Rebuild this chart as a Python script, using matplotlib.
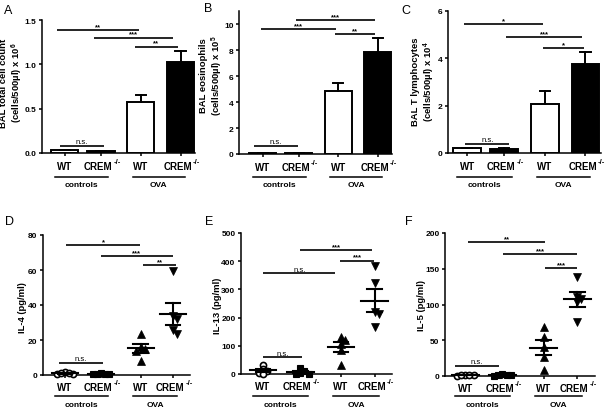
import numpy as np
import matplotlib
matplotlib.use('Agg')
import matplotlib.pyplot as plt

plt.rcParams['font.family'] = ['Liberation Sans', 'DejaVu Sans']
plt.rcParams['mathtext.fontset'] = 'custom'
plt.rcParams['mathtext.rm'] = 'Liberation Sans'
plt.rcParams['mathtext.bf'] = 'Liberation Sans:bold'
plt.rcParams['mathtext.it'] = 'Liberation Sans:italic'

W, H = 605, 410

# ---------------- data ----------------
tick_labels = ['WT', 'CREM', 'WT', 'CREM']
tick_sup = ['', '-/-', '', '-/-']
group_names = ['controls', 'OVA']

# top row: bar charts (mean, SEM)
total_mean = [0.03, 0.02, 0.57, 1.03]
total_sem = [0.005, 0.003, 0.085, 0.12]
eos_mean = [0.05, 0.05, 4.85, 7.85]
eos_sem = [0.01, 0.01, 0.62, 1.05]
tly_mean = [0.20, 0.18, 2.07, 3.76]
tly_sem = [0.03, 0.02, 0.57, 0.52]

# bottom row: individual mice
il4_wt_ctrl = [1.5, 0.5, 1.0, 0.8, 1.2]
il4_crem_ctrl = [0.8, 0.3, 1.0, 0.5, 0.6]
il4_wt_ova = [23.5, 16, 15, 14, 8]
il4_crem_ova = [59.5, 34, 32, 25.5, 23.5]

il13_wt_ctrl = [33, 18, 10, 4, 0]
il13_crem_ctrl = [22, 12, 5, 0, 0]
il13_wt_ova = [130, 120, 106, 85, 32]
il13_crem_ova = [384, 321, 220, 212, 165]

il5_wt_ctrl = [1.5, 0.5, 1.0, 0.8, 1.2]
il5_crem_ctrl = [1.5, 2.5, 1.0, 0.5, 2.0]
il5_wt_ova = [69, 54, 40, 26, 9]
il5_crem_ova = [139, 110, 108, 104, 75]

# significance brackets: (x start, x end, y, label)
sig_A = [(-0.22, 2.04, 1.39, '**'), (0.80, 3.00, 1.30, '***'), (1.93, 3.14, 1.20, '**'), (-0.12, 1.08, 0.08, 'n.s.')]
sig_B = [(-0.06, 2.03, 9.6, '***'), (0.94, 3.14, 10.3, '***'), (2.00, 3.14, 9.2, '**'), (-0.25, 0.97, 0.63, 'n.s.')]
sig_C = [(-0.08, 2.06, 5.45, '*'), (1.06, 3.10, 4.89, '***'), (2.05, 3.15, 4.44, '*'), (-0.05, 1.14, 0.38, 'n.s.')]
sig_D = [(0.03, 2.08, 74.2, '*'), (0.99, 2.99, 68, '***'), (2.17, 3.08, 62.7, '**'), (-0.17, 1.05, 7.1, 'n.s.')]
sig_E = [(1.00, 2.93, 440, '***'), (2.08, 2.98, 402, '***'), (0.00, 1.95, 357, 'n.s.'), (0.00, 1.04, 59, 'n.s.')]
sig_F = [(0.08, 2.14, 187, '**'), (1.02, 3.00, 170.6, '***'), (2.14, 3.00, 151, '***'), (-0.27, 0.91, 14.4, 'n.s.')]

# ---------------- layout ----------------
pos_top = [0, 1, 2.1, 3.2]
pos_bot = [0, 1, 2.1, 3.0]

fig = plt.figure(figsize=(W / 100, H / 100), dpi=100)
fig.patch.set_facecolor('white')


def make_ax(l, r, b, t, xl, ylim, yticks, yfmt):
    ax = fig.add_axes([l / W, 1 - b / H, (r - l) / W, (b - t) / H])
    ax.set_xlim(*xl)
    ax.set_ylim(*ylim)
    ax.set_yticks(yticks)
    ax.set_yticklabels([yfmt.format(v) for v in yticks], fontsize=6, fontweight='bold')
    for s in ['top', 'right']:
        ax.spines[s].set_visible(False)
    for s in ['left', 'bottom']:
        ax.spines[s].set_linewidth(1.1)
    ax.tick_params(axis='y', length=2.5, width=1.1, pad=1.5)
    ax.tick_params(axis='x', length=2.5, width=1.1, pad=3)
    ax.set_facecolor('none')
    return ax


def decorate_x(ax, pos, lab_gap, line_gap, text_gap):
    ax.set_xticks(pos)
    ax.set_xticklabels([])
    tr = ax.get_xaxis_transform()
    for x, lab, sup in zip(pos, tick_labels, tick_sup):
        if sup:
            ax.annotate(lab, (x, 0), xycoords=tr, xytext=(-3, -lab_gap), textcoords='offset pixels',
                        ha='center', va='center', fontsize=7, fontweight='bold', annotation_clip=False)
            ax.annotate(sup, (x, 0), xycoords=tr, xytext=(12.5, -lab_gap + 4), textcoords='offset pixels',
                        ha='left', va='center', fontsize=5.6, fontweight='bold', annotation_clip=False)
        else:
            ax.annotate(lab, (x, 0), xycoords=tr, xytext=(0, -lab_gap), textcoords='offset pixels',
                        ha='center', va='center', fontsize=7, fontweight='bold', annotation_clip=False)
    h = ax.get_window_extent().height
    spans = [(pos[0] - 0.27, pos[1] + 0.2), (pos[2] - 0.22, pos[3] + 0.12)]
    for (a, b_), name in zip(spans, group_names):
        ax.plot([a, b_], [-line_gap / h] * 2, color='black', lw=1.1, transform=tr, clip_on=False)
        ax.text((a + b_) / 2, -text_gap / h, name, transform=tr, ha='center', va='center',
                fontsize=6, fontweight='bold')


def add_sig(ax, sigs):
    for x1, x2, y, lab in sigs:
        ax.plot([x1, x2], [y, y], color='black', lw=1.2, solid_capstyle='butt', zorder=5)
        if lab == 'n.s.':
            ax.annotate(lab, ((x1 + x2) / 2, y), xytext=(0, 0.5), textcoords='offset points',
                        ha='center', va='bottom', fontsize=5.5)
        else:
            ax.annotate(lab, ((x1 + x2) / 2, y), xytext=(0, 0), textcoords='offset points',
                        ha='center', va='bottom', fontsize=5.5, fontweight='bold')


def bars(ax, pos, means, sems):
    colors = ['white', 'black', 'white', 'black']
    ax.bar(pos, means, width=0.75, color=colors, edgecolor='black', linewidth=1.4, zorder=3)
    for x, m, s in zip(pos, means, sems):
        ax.plot([x, x], [m, m + s], color='black', lw=1.4, zorder=4)
        ax.plot([x - 0.14, x + 0.14], [m + s, m + s], color='black', lw=1.4, zorder=4)


def swarm_offsets(ax, x0, vals, d_px):
    pts = np.column_stack([np.full(len(vals), x0, dtype=float), np.asarray(vals, dtype=float)])
    ypx = ax.transData.transform(pts)[:, 1]
    order = np.argsort(-np.asarray(vals, dtype=float), kind='stable')
    placed = []
    offs = np.zeros(len(vals))
    for i in order:
        xo = 0.0
        for k in [0, 1, -1, 2, -2, 3, -3, 4, -4]:
            xo = k * d_px
            if all((xo - px) ** 2 + (ypx[i] - py) ** 2 >= (d_px ** 2) * 0.98 for px, py in placed):
                break
        placed.append((xo, ypx[i]))
        offs[i] = xo
    u = ax.transData.transform([[1, 0]])[0, 0] - ax.transData.transform([[0, 0]])[0, 0]
    return offs / u


def scatter(ax, pos, groups):
    styles = [dict(marker='o', ms=4.4, mfc='white', mec='black', mew=1.2),
              dict(marker='s', ms=4.0, mfc='black', mec='black', mew=0.8),
              dict(marker='^', ms=5.8, mfc='black', mec='black', mew=0.5),
              dict(marker='v', ms=5.8, mfc='black', mec='black', mew=0.5)]
    for x, vals, st in zip(pos, groups, styles):
        offs = swarm_offsets(ax, x, vals, 4.2)
        ax.plot(x + offs, vals, linestyle='none', zorder=4, clip_on=False, **st)
        v = np.asarray(vals, dtype=float)
        m = v.mean()
        se = v.std(ddof=1) / np.sqrt(len(v))
        ax.plot([x - 0.36, x + 0.36], [m, m], color='black', lw=1.5, zorder=5, clip_on=False)
        ax.plot([x - 0.2, x + 0.2], [m + se, m + se], color='black', lw=1.5, zorder=5)
        ax.plot([x - 0.2, x + 0.2], [m - se, m - se], color='black', lw=1.5, zorder=5, clip_on=False)
        ax.plot([x, x], [m - se, m + se], color='black', lw=1.5, zorder=5, clip_on=False)


# ---------------- panel A ----------------
axA = make_ax(42, 195, 154, 21, (-0.63, 3.6), (0, 1.5), [0, 0.5, 1.0, 1.5], '{:.1f}')
bars(axA, pos_top, total_mean, total_sem)
add_sig(axA, sig_A)
decorate_x(axA, pos_top, 13, 24, 32)

# ---------------- panel B ----------------
axB = make_ax(239, 392, 155, 12, (-0.66, 3.6), (0, 11), [0, 2, 4, 6, 8, 10], '{:d}')
bars(axB, pos_top, eos_mean, eos_sem)
add_sig(axB, sig_B)
decorate_x(axB, pos_top, 13, 23, 31)

# ---------------- panel C ----------------
axC = make_ax(448, 601, 154, 12, (-0.52, 3.62), (0, 6), [0, 2, 4, 6], '{:d}')
bars(axC, pos_top, tly_mean, tly_sem)
add_sig(axC, sig_C)
decorate_x(axC, pos_top, 13, 24, 32)

# ---------------- panel D ----------------
axD = make_ax(43, 190, 376, 236, (-0.61, 3.47), (0, 80), [0, 20, 40, 60, 80], '{:d}')
scatter(axD, pos_bot, [il4_wt_ctrl, il4_crem_ctrl, il4_wt_ova, il4_crem_ova])
add_sig(axD, sig_D)
decorate_x(axD, pos_bot, 12, 21, 30)

# ---------------- panel E ----------------
axE = make_ax(241, 392, 375, 234, (-0.59, 3.47), (0, 500), [0, 100, 200, 300, 400, 500], '{:d}')
scatter(axE, pos_bot, [il13_wt_ctrl, il13_crem_ctrl, il13_wt_ova, il13_crem_ova])
add_sig(axE, sig_E)
decorate_x(axE, pos_bot, 12, 22, 31)

# ---------------- panel F ----------------
axF = make_ax(445, 595, 377, 234, (-0.54, 3.48), (0, 200), [0, 50, 100, 150, 200], '{:d}')
scatter(axF, pos_bot, [il5_wt_ctrl, il5_crem_ctrl, il5_wt_ova, il5_crem_ova])
add_sig(axF, sig_F)
decorate_x(axF, pos_bot, 12, 20, 29)

# ---------------- y labels ----------------
def ylab(x, y, s):
    fig.text(x / W, 1 - y / H, s, rotation=90, ha='center', va='center', fontsize=6.8,
             fontweight='bold', linespacing=1.15, multialignment='center')

ylab(12, 83, 'BAL total cell count\n' + r'(cells/500µl) x 10$^{\mathbf{6}}$')
ylab(212, 76, 'BAL eosinophils\n' + r'(cells/500µl) x 10$^{\mathbf{5}}$')
ylab(424, 82, 'BAL T lymphocytes\n' + r'(cells/500µl) x 10$^{\mathbf{4}}$')
ylab(23, 308, 'IL-4 (pg/ml)')
ylab(218, 306, 'IL-13 (pg/ml)')
ylab(422, 306, 'IL-5 (pg/ml)')

# ---------------- panel letters ----------------
for lx, ly, L in [(8, 11, 'A'), (208, 9, 'B'), (406, 11, 'C'),
                  (10, 222, 'D'), (209, 222, 'E'), (409, 222, 'F')]:
    fig.text(lx / W, 1 - ly / H, L, ha='center', va='center', fontsize=9)

fig.savefig('out.png', dpi=100, facecolor='white')
